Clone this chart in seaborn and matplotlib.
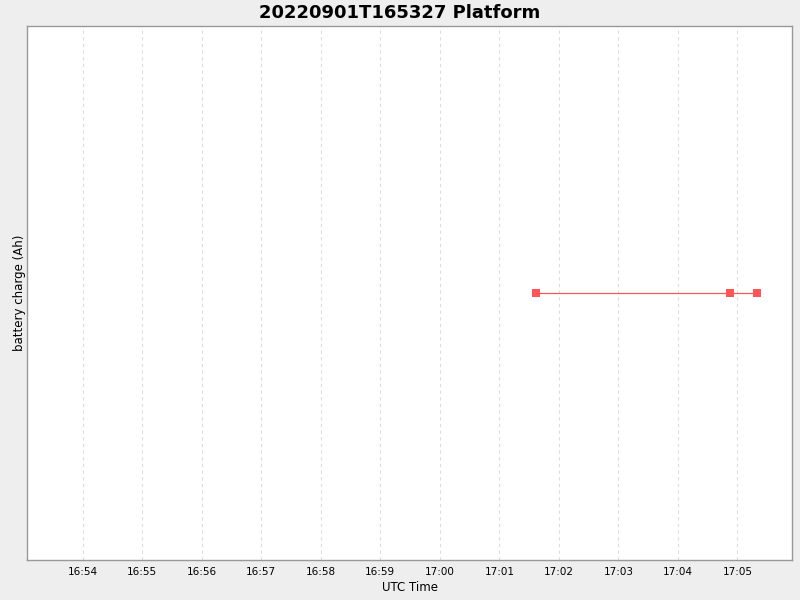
import pandas as pd
import matplotlib
matplotlib.use('Agg')
import matplotlib.pyplot as plt
import matplotlib.dates as mdates
import seaborn as sns

# data
times = ['2022-09-01 17:01:37', '2022-09-01 17:04:53', '2022-09-01 17:05:20']
charge = [0.0, 0.0, 0.0]
x_range = ['2022-09-01 16:53:04', '2022-09-01 17:05:55']

df = pd.DataFrame({'time': pd.to_datetime(times), 'charge': charge})

sns.set_style('white')
plt.rcParams['font.family'] = ['DejaVu Sans']
plt.rcParams['text.color'] = 'black'
plt.rcParams['axes.labelcolor'] = 'black'
plt.rcParams['xtick.color'] = 'black'

fig = plt.figure(figsize=(8, 6), dpi=100, facecolor='#EEEEEE')
ax = fig.add_axes([0.034, 0.0667, 0.956, 0.89])
ax.set_facecolor('white')

sns.lineplot(data=df, x='time', y='charge', ax=ax, color='#FF5555',
             marker='s', markersize=6, markeredgewidth=0, linewidth=0.9)

ax.set_xlim(pd.to_datetime(x_range[0]), pd.to_datetime(x_range[1]))
ax.set_ylim(-1, 1)
ax.xaxis.set_major_locator(mdates.MinuteLocator())
ax.xaxis.set_major_formatter(mdates.DateFormatter('%H:%M'))
ax.tick_params(axis='x', length=0, labelsize=7.5, pad=5)
ax.set_yticks([])

ax.grid(axis='x', color='#DDDDDD', linestyle=(0, (3, 3)), linewidth=0.8)
for s in ax.spines.values():
    s.set_color('#999999')
    s.set_linewidth(1)

ax.set_xlabel('UTC Time', fontsize=8.5, labelpad=3)
ax.set_ylabel('battery charge (Ah)', fontsize=8.5, labelpad=1)
fig.suptitle('20220901T165327 Platform', fontsize=13, fontweight='bold', y=0.993)

fig.savefig('out.png', dpi=100, facecolor=fig.get_facecolor())
